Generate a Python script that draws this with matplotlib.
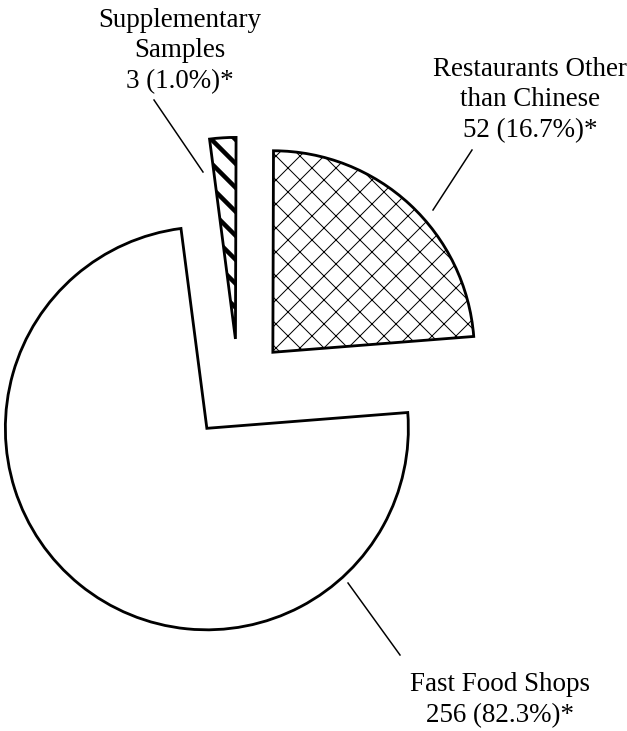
import matplotlib
matplotlib.use('Agg')
import matplotlib.pyplot as plt

# ---- data ----
categories = ["Restaurants Other\nthan Chinese", "Supplementary\nSamples", "Fast Food Shops"]
counts = [52, 3, 256]
percents = [16.7, 1.0, 82.3]
# slice sizes as drawn in the original figure (angles, as % of circle)
slice_shares = [23.7, 2.1, 74.2]
hatches = ['x', '\\', '']

plt.rcParams['font.family'] = ['Liberation Serif', 'DejaVu Serif']

W, H, DPI = 627, 731, 72
fig = plt.figure(figsize=(W / DPI, H / DPI), dpi=DPI)
ax = fig.add_axes([0, 0, 1, 1])

cx, cy, R = 238.6, 341.8, 201.5
wedges, _ = ax.pie(slice_shares, startangle=4.5, counterclock=True,
                   center=(cx, cy), radius=R, explode=[0.25 * R] * 3,
                   colors=['white'] * 3, frame=True,
                   wedgeprops=dict(edgecolor='black', linewidth=2.8))
for w, h in zip(wedges, hatches):
    if h:
        w.set_hatch(h)
if hasattr(wedges[1], 'set_hatch_linewidth'):
    wedges[0].set_hatch_linewidth(1.0)
    wedges[1].set_hatch_linewidth(4.5)

ax.set_xlim(0, W)
ax.set_ylim(0, H)
ax.set_aspect('equal')
ax.axis('off')

labels = [f"{c}\n{n} ({p:.1f}%)*" for c, n, p in zip(categories, counts, percents)]
label_pos = [(530, 731 - 100), (180, 731 - 51), (500, 731 - 700)]
leaders = [((472, 581), (433, 521)), ((154, 631), (203, 559)), ((348, 148), (400, 76))]

for lab, (tx, ty), (p0, p1) in zip(labels, label_pos, leaders):
    ax.text(tx, ty, lab, ha='center', va='center', fontsize=27, linespacing=1.3)
    ax.plot([p0[0], p1[0]], [p0[1], p1[1]], color='black', lw=1.5)

fig.savefig('out.png', dpi=DPI)
